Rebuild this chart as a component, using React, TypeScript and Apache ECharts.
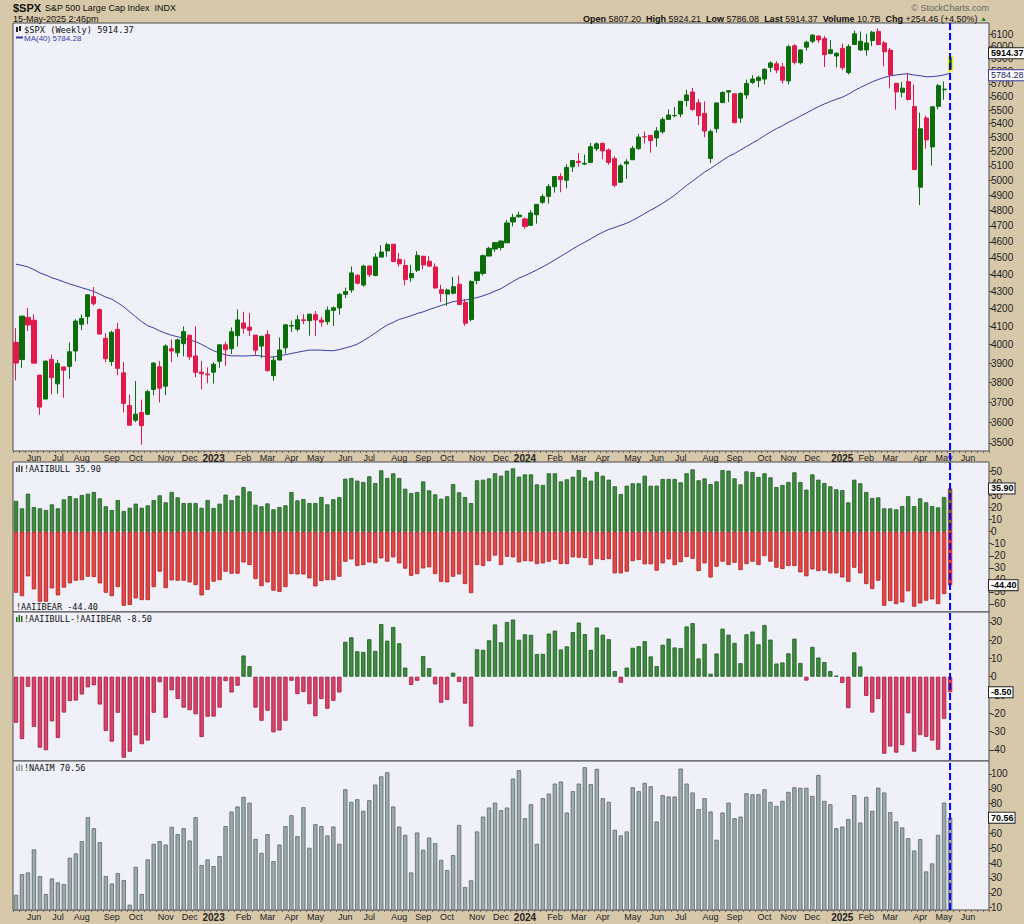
import React, { useEffect, useRef } from 'react';
import * as echarts from 'echarts';

// ---------- categories ----------
const START_UTC = Date.UTC(2022, 4, 16); // week of 16-May-2022
const SLOTS = 163; // 157 weeks of data + future weeks to end of June 2025
const MONTHS = ['Jan', 'Feb', 'Mar', 'Apr', 'May', 'Jun', 'Jul', 'Aug', 'Sep', 'Oct', 'Nov', 'Dec'];

// ---------- $SPX weekly OHLC ----------
const opens = [
  4013.0, 3920.0, 4151.0, 4135.0, 3838.0, 3715.0, 3920.8, 3792.6, 3880.9, 3883.8,
  3965.7, 4112.4, 4155.9, 4269.4, 4195.1, 4034.6, 3909.4, 4083.7, 3849.9, 3682.7,
  3609.8, 3647.5, 3638.7, 3764.0, 3881.9, 3780.7, 3977.9, 3956.2, 4005.4, 4052.0,
  3939.3, 3853.8, 3843.3, 3853.3, 3910.8, 3999.3, 3978.1, 4049.3, 4119.6, 4096.6,
  4052.4, 3992.4, 4055.1, 3835.1, 3917.5, 3982.9, 4102.2, 4085.2, 4137.2, 4132.1,
  4166.8, 4136.0, 4126.7, 4190.8, 4204.2, 4283.0, 4308.3, 4396.1, 4337.4, 4450.5,
  4394.2, 4505.4, 4543.4, 4584.8, 4491.6, 4454.2, 4380.3, 4426.0, 4510.1, 4480.5,
  4445.4, 4310.6, 4284.5, 4289.0, 4342.4, 4235.8, 4139.4, 4364.3, 4406.7, 4511.7,
  4554.9, 4564.4, 4593.4, 4725.6, 4758.9, 4745.2, 4703.7, 4772.4, 4853.4, 4893.0,
  4957.2, 5026.8, 5001.1, 5093.0, 5131.0, 5112.0, 5123.3, 5219.5, 5258.0, 5211.4,
  5149.7, 4987.3, 5114.1, 5142.4, 5221.1, 5305.4, 5315.9, 5297.2, 5341.2, 5432.0,
  5459.6, 5471.1, 5572.9, 5638.2, 5555.7, 5476.6, 5151.1, 5364.3, 5557.2, 5637.8,
  5623.9, 5442.1, 5615.2, 5711.9, 5726.5, 5737.8, 5829.8, 5857.8, 5833.9, 5723.2,
  6003.6, 5867.0, 5992.3, 6040.1, 6083.9, 6063.8, 5940.3, 5920.7, 5982.8, 5789.0,
  6014.1, 5969.0, 5969.7, 6046.4, 6121.6, 6026.7, 5968.3, 5705.4, 5635.6, 5718.1,
  5527.9, 4953.8, 5442.0, 5232.9, 5529.2, 5655.3, 5807.2,
];
const highs = [
  4090.7, 4158.5, 4204.3, 4168.8, 3838.0, 3913.7, 3945.9, 3918.5, 3880.9, 4012.4,
  4140.2, 4167.7, 4280.5, 4325.3, 4203.0, 4062.1, 4076.8, 4119.3, 3907.1, 3736.7,
  3806.9, 3711.9, 3762.8, 3905.4, 3911.8, 4001.5, 4028.8, 4034.0, 4100.5, 4052.0,
  4101.0, 3911.9, 3878.4, 3906.0, 4004.0, 4015.4, 4094.2, 4195.4, 4182.7, 4176.5,
  4052.4, 4048.3, 4078.5, 3937.3, 4039.5, 4110.8, 4133.1, 4163.2, 4169.5, 4170.1,
  4186.9, 4154.3, 4212.9, 4212.9, 4290.7, 4322.6, 4448.5, 4400.2, 4458.5, 4456.5,
  4527.6, 4578.4, 4594.2, 4584.8, 4531.0, 4490.3, 4458.3, 4541.3, 4514.3, 4512.0,
  4466.4, 4338.5, 4317.3, 4385.5, 4393.6, 4255.8, 4366.2, 4415.3, 4521.2, 4568.4,
  4595.1, 4609.2, 4738.6, 4778.0, 4793.3, 4754.3, 4802.4, 4842.1, 4907.5, 4975.3,
  5030.1, 5048.4, 5111.1, 5140.3, 5189.3, 5179.1, 5261.1, 5264.9, 5263.0, 5222.2,
  5168.4, 5114.6, 5146.2, 5239.7, 5325.5, 5341.9, 5315.9, 5375.1, 5447.2, 5505.5,
  5523.6, 5570.3, 5655.6, 5669.7, 5585.3, 5566.2, 5358.9, 5561.0, 5643.2, 5651.6,
  5623.9, 5636.3, 5733.6, 5767.4, 5765.1, 5822.1, 5878.5, 5878.5, 5865.0, 6012.5,
  6017.3, 5972.9, 6044.2, 6100.0, 6085.2, 6085.2, 6049.8, 5949.3, 6021.0, 6015.0,
  6128.2, 6120.9, 6101.3, 6127.5, 6147.4, 6043.7, 5986.1, 5705.4, 5715.3, 5787.0,
  5695.3, 5481.3, 5459.5, 5528.1, 5700.7, 5720.1, 5924.2,
];
const lows = [
  3810.3, 3875.1, 4074.0, 3900.2, 3636.9, 3715.0, 3738.7, 3742.0, 3721.6, 3818.6,
  3910.7, 4079.8, 4112.1, 4218.7, 4057.7, 3906.2, 3886.2, 3837.1, 3647.5, 3584.1,
  3599.6, 3491.6, 3638.7, 3733.7, 3698.2, 3735.2, 3906.5, 3933.6, 3937.0, 3918.4,
  3827.1, 3764.5, 3795.6, 3794.3, 3877.3, 3885.5, 3949.1, 3989.9, 4060.8, 4047.0,
  3943.1, 3928.2, 3855.8, 3808.9, 3916.1, 3951.5, 4069.8, 4072.6, 4113.2, 4049.4,
  4048.3, 4098.9, 4109.2, 4103.0, 4166.2, 4262.0, 4292.4, 4341.3, 4328.1, 4385.1,
  4389.9, 4503.5, 4507.7, 4474.6, 4448.1, 4335.3, 4356.3, 4415.2, 4430.5, 4448.4,
  4316.5, 4238.6, 4216.5, 4283.8, 4223.0, 4103.8, 4127.9, 4342.2, 4393.6, 4511.7,
  4537.2, 4546.5, 4593.4, 4697.8, 4751.6, 4682.1, 4699.8, 4714.8, 4842.1, 4845.2,
  4918.1, 4920.3, 4946.0, 5058.3, 5094.4, 5104.4, 5123.3, 5203.4, 5146.1, 5107.9,
  4953.6, 4987.3, 5011.1, 5142.4, 5211.2, 5256.9, 5191.7, 5234.3, 5327.3, 5432.0,
  5447.9, 5448.4, 5528.6, 5497.0, 5391.0, 5302.4, 5119.3, 5335.0, 5555.4, 5561.0,
  5402.6, 5407.0, 5584.8, 5699.0, 5674.0, 5695.7, 5791.5, 5782.3, 5703.0, 5696.5,
  5853.0, 5853.0, 5963.9, 6025.0, 6026.9, 5832.3, 5935.1, 5829.5, 5809.7, 5773.3,
  6014.1, 5962.9, 5923.9, 6003.0, 6008.6, 5837.7, 5666.3, 5504.7, 5597.8, 5572.4,
  5069.9, 4835.0, 5220.8, 5101.6, 5506.6, 5578.6, 5786.1,
];
const closes = [
  3901.4, 4158.2, 4108.5, 3900.9, 3674.8, 3911.7, 3825.3, 3899.4, 3863.2, 3961.6,
  4130.3, 4145.2, 4280.2, 4228.5, 4057.7, 3924.3, 4067.4, 3873.3, 3693.2, 3585.6,
  3639.7, 3583.1, 3752.8, 3901.1, 3770.6, 3992.9, 3965.3, 4026.1, 4071.7, 3934.4,
  3852.4, 3844.8, 3839.5, 3895.1, 3999.1, 3972.6, 4070.6, 4136.5, 4090.5, 4079.1,
  3970.0, 4045.6, 3861.6, 3916.6, 3971.0, 4109.3, 4105.0, 4137.6, 4133.5, 4169.5,
  4136.3, 4124.1, 4192.0, 4205.5, 4282.4, 4298.9, 4409.6, 4348.3, 4450.4, 4399.0,
  4505.4, 4536.3, 4582.2, 4478.0, 4464.1, 4369.7, 4405.7, 4515.8, 4457.5, 4450.3,
  4320.1, 4288.1, 4308.5, 4327.8, 4224.2, 4117.4, 4358.3, 4415.2, 4514.0, 4559.3,
  4594.6, 4604.4, 4719.2, 4754.6, 4769.8, 4697.2, 4783.8, 4839.8, 4891.0, 4958.6,
  5026.6, 5005.6, 5088.8, 5137.1, 5123.7, 5117.1, 5234.2, 5254.4, 5204.3, 5123.4,
  4967.2, 5100.0, 5127.8, 5222.7, 5303.3, 5304.7, 5277.5, 5347.0, 5431.6, 5464.6,
  5460.5, 5567.2, 5615.4, 5505.0, 5459.1, 5346.6, 5344.2, 5554.3, 5634.6, 5648.4,
  5408.4, 5626.0, 5702.6, 5738.2, 5751.1, 5815.0, 5864.7, 5808.1, 5728.8, 5995.5,
  5870.6, 5969.3, 6032.4, 6090.3, 6051.1, 5930.9, 5970.8, 5942.5, 5827.0, 5996.7,
  6101.2, 6040.5, 6026.0, 6114.6, 6013.1, 5954.5, 5770.2, 5638.9, 5667.6, 5580.9,
  5074.1, 5363.4, 5282.7, 5525.2, 5686.7, 5659.9, 5914.37,
];
// 39 weekly closes before the first visible week (needed for the 40-week MA)
const priorCloses = [
  4441.7, 4509.4, 4535.4, 4458.6, 4433.0, 4455.5, 4357.0, 4391.3, 4471.4, 4544.9,
  4605.4, 4697.5, 4682.9, 4698.0, 4594.6, 4538.4, 4712.0, 4620.6, 4725.8, 4766.2,
  4677.0, 4662.9, 4397.9, 4431.9, 4500.5, 4418.6, 4348.9, 4384.7, 4328.9, 4204.3,
  4463.1, 4543.1, 4545.9, 4488.3, 4392.6, 4271.8, 4131.9, 4123.3, 4023.9,
];

// ---------- AAII bull / bear ----------
const bull = [
  25.5, 19.4, 31.6, 20.5, 19.4, 18.0, 22.7, 19.4, 26.9, 29.6,
  27.7, 30.5, 31.6, 33.0, 27.7, 21.1, 18.0, 26.3, 17.2, 19.9,
  23.3, 19.9, 21.9, 26.3, 30.2, 24.4, 33.0, 28.5, 23.8, 23.8,
  23.8, 19.9, 26.3, 19.7, 23.3, 30.8, 26.3, 30.0, 37.1, 33.5,
  22.4, 21.1, 23.5, 18.6, 20.5, 21.9, 33.0, 26.0, 27.1, 23.8,
  23.8, 28.8, 22.7, 27.0, 28.8, 44.0, 44.6, 42.4, 41.3, 46.0,
  40.4, 51.0, 44.6, 48.5, 44.6, 35.7, 32.1, 33.0, 41.8, 34.3,
  31.0, 27.4, 29.4, 39.6, 32.7, 28.8, 23.8, 42.7, 43.2, 44.3,
  48.5, 46.5, 50.7, 52.6, 45.7, 47.6, 47.6, 39.3, 38.8, 48.5,
  48.5, 41.8, 43.5, 45.7, 51.2, 45.2, 42.4, 49.6, 46.5, 43.2,
  37.7, 31.3, 38.2, 40.2, 40.2, 46.5, 38.2, 38.2, 43.8, 43.8,
  43.8, 41.0, 48.5, 51.8, 42.7, 44.3, 39.6, 41.8, 51.2, 50.7,
  44.3, 39.3, 50.1, 49.6, 45.4, 48.5, 45.2, 37.1, 38.8, 41.3,
  49.3, 41.3, 34.9, 47.6, 43.2, 40.4, 37.7, 35.2, 34.6, 24.4,
  43.2, 40.2, 33.0, 28.0, 28.5, 19.4, 19.4, 18.6, 21.3, 29.5,
  21.3, 27.7, 24.4, 21.3, 20.2, 28.8, 35.9,
];
const bear = [
  -50.7, -53.5, -37.1, -47.9, -58.2, -58.2, -47.1, -52.9, -46.5, -42.9,
  -40.7, -40.2, -37.4, -37.7, -42.9, -50.7, -53.5, -46.0, -61.5, -60.9,
  -55.4, -56.8, -56.8, -46.0, -33.2, -46.8, -40.4, -40.7, -40.7, -42.1,
  -44.3, -52.9, -48.2, -41.5, -40.2, -33.2, -34.9, -34.9, -25.5, -27.7,
  -39.3, -45.2, -42.1, -49.0, -49.9, -46.0, -35.2, -35.5, -35.5, -38.8,
  -45.4, -41.0, -40.2, -40.2, -37.4, -24.9, -23.0, -28.5, -27.7, -25.5,
  -26.3, -22.2, -24.9, -21.3, -26.3, -30.7, -36.6, -35.2, -30.5, -29.6,
  -35.2, -41.6, -42.1, -37.4, -35.5, -43.5, -51.0, -27.7, -28.5, -24.4,
  -19.9, -27.7, -20.8, -21.3, -25.5, -24.4, -24.7, -26.9, -26.3, -24.9,
  -23.3, -26.9, -26.9, -21.3, -21.6, -21.9, -27.7, -22.7, -23.5, -22.7,
  -34.6, -34.6, -33.2, -24.4, -23.5, -27.1, -27.1, -32.4, -26.3, -23.0,
  -27.8, -25.3, -21.0, -22.5, -32.7, -26.3, -38.0, -29.1, -24.9, -27.7,
  -25.8, -31.9, -26.9, -24.9, -27.7, -20.2, -24.9, -29.9, -31.0, -28.5,
  -28.5, -33.8, -37.0, -31.3, -32.7, -32.4, -34.6, -34.6, -38.0, -41.6,
  -29.9, -34.6, -43.5, -47.6, -40.7, -61.5, -57.6, -60.1, -58.7, -49.5,
  -62.3, -59.6, -57.3, -56.2, -60.1, -51.8, -44.4,
];

// ---------- NAAIM exposure ----------
const naaim = [
  18.7, 32.6, 33.7, 49.2, 31.3, 19.2, 29.7, 27.0, 25.9, 43.6,
  46.5, 54.8, 70.9, 63.5, 54.1, 31.3, 26.3, 33.3, 28.6, 12.0,
  37.5, 19.2, 42.5, 53.0, 54.8, 52.5, 64.4, 59.5, 63.5, 55.2,
  70.9, 38.7, 42.5, 38.0, 44.7, 64.9, 74.7, 78.1, 84.6, 80.7,
  56.3, 46.9, 59.5, 41.3, 52.5, 64.9, 72.2, 58.1, 77.6, 50.3,
  66.2, 64.9, 58.6, 64.6, 53.0, 89.7, 81.2, 83.0, 75.2, 82.3,
  92.8, 98.4, 101.1, 78.1, 64.6, 59.0, 33.7, 60.6, 49.0, 57.2,
  53.4, 42.2, 35.3, 45.4, 65.7, 23.9, 28.4, 61.3, 71.3, 77.4,
  80.7, 75.6, 77.4, 96.9, 102.5, 70.2, 79.6, 53.0, 83.7, 86.8,
  93.5, 94.9, 74.0, 88.4, 93.5, 104.5, 93.1, 103.4, 83.7, 81.2,
  62.4, 58.6, 61.3, 91.0, 88.4, 94.0, 91.7, 68.0, 85.7, 84.8,
  84.8, 103.6, 93.5, 87.5, 76.3, 83.7, 74.7, 55.7, 74.0, 80.7,
  70.2, 71.3, 87.0, 86.3, 86.3, 89.7, 81.2, 78.5, 81.9, 87.9,
  91.0, 90.6, 90.6, 85.2, 99.3, 81.9, 79.6, 63.5, 64.6, 69.6,
  85.7, 67.3, 84.6, 75.2, 90.8, 87.5, 74.3, 68.0, 64.0, 56.8,
  48.5, 56.1, 34.4, 39.8, 59.0, 80.7, 70.56,
];

// ---------- tick labels ----------
const priceTicks = [3500, 3600, 3700, 3800, 3900, 4000, 4100, 4200, 4300, 4400, 4500, 4600, 4700, 4800, 4900, 5000, 5100, 5200, 5300, 5400, 5500, 5600, 5700, 5800, 5900, 6000, 6100];
const sentimentTicks = [-60, -50, -40, -30, -20, -10, 0, 10, 20, 30, 40, 50];
const spreadTicks = [-40, -30, -20, -10, 0, 10, 20, 30];
const naaimTicks = [10, 20, 30, 40, 50, 60, 70, 80, 90, 100];

// ---------- styles ----------
const FONT = 'Liberation Sans, Arial, sans-serif';
const MONO = 'DejaVu Sans Mono, monospace';
const TAN = '#d8c8aa';
const PLOT_BG = '#eff0f8';
const UP = '#0b6e0b';
const DOWN = '#e01b4c';

export default function App() {
  const ref = useRef<HTMLDivElement>(null);

  useEffect(() => {
    if (!ref.current) return;
    const chart = echarts.init(ref.current, undefined, { renderer: 'svg' });

    const cats: string[] = [];
    for (let i = 0; i < SLOTS; i++) {
      cats.push(new Date(START_UTC + i * 7 * 86400000).toISOString().slice(0, 10));
    }
    const monthOf = (s: string) => Number(s.slice(5, 7)) - 1;
    const showLabel = (i: number) => i > 0 && monthOf(cats[i]) !== monthOf(cats[i - 1]);

    const N = closes.length;
    const last = N - 1;
    const L = Math.log;
    const allCloses = [...priorCloses, ...closes];
    const ma = closes.map((_, i) => {
      let s = 0;
      for (let k = i; k < i + 40; k++) s += allCloses[k];
      return L(s / 40);
    });
    const candleData = closes.map((c, i) => {
      const item: any = { value: [L(opens[i]), L(c), L(lows[i]), L(highs[i])] };
      if (i === last) item.itemStyle = { borderColor: '#f0f000', borderWidth: 1.5 };
      return item;
    });
    const spread = bull.map((b, i) => Math.round((b + bear[i]) * 100) / 100);
    const spreadData = spread.map((v, i) => ({
      value: v,
      itemStyle: {
        color: v >= 0 ? '#3d8c3d' : '#d9456a',
        borderColor: i === last ? '#d01010' : v >= 0 ? '#1e5c1e' : '#a3163c',
      },
    }));
    const bullData = bull.map((v, i) => (i === last ? { value: v, itemStyle: { borderColor: '#d01010' } } : v));
    const bearData = bear.map((v, i) => (i === last ? { value: v, itemStyle: { borderColor: '#d01010' } } : v));

    const tag = (val: number, text: string, opt: any = {}) => ({
      silent: true,
      symbol: ['none', 'none'],
      animation: false,
      lineStyle: { color: 'rgba(0,0,0,0)', width: 0, type: 'solid' },
      label: {
        show: true,
        position: 'end',
        distance: 0,
        formatter: text,
        backgroundColor: '#ffffff',
        borderColor: opt.border || '#222',
        borderWidth: 1,
        padding: [1, 1, 0, 2],
        fontSize: 9,
        fontFamily: FONT,
        fontWeight: opt.bold === false ? 'normal' : 'bold',
        color: opt.color || '#000',
        opacity: 1,
      },
      emphasis: { disabled: true },
      data: [{ yAxis: val }],
    });

    const grids = [
      { top: 23, height: 428 },
      { top: 462, height: 150 },
      { top: 612, height: 149 },
      { top: 761, height: 149 },
    ].map((g) => ({
      left: 13,
      width: 976,
      top: g.top,
      height: g.height,
      show: true,
      backgroundColor: PLOT_BG,
      borderColor: '#4a4a4a',
      borderWidth: 1,
      containLabel: false,
      outerBoundsMode: 'none',
    }));

    const xAxes = [0, 1, 2, 3].map((g) => ({
      type: 'category',
      gridIndex: g,
      data: cats,
      boundaryGap: true,
      axisLine: { show: false },
      axisTick: {
        show: g === 0 || g === 3,
        interval: 0,
        length: 2,
        lineStyle: { color: '#666', width: 1 },
      },
      axisLabel: {
        show: g === 0 || g === 3,
        interval: (i: number) => showLabel(i),
        formatter: (v: string) => {
          const m = monthOf(v);
          return m === 0 ? `{y|${v.slice(0, 4)}}` : MONTHS[m];
        },
        fontSize: 9,
        fontFamily: FONT,
        color: '#222',
        margin: 2,
        rich: { y: { fontWeight: 'bold', fontSize: 10, fontFamily: FONT, color: '#222' } },
      },
      splitLine: { show: false },
    }));

    const yAxis = (g: number, min: number, max: number, ticks: number[], fmt: (v: number) => string) => ({
      type: 'value',
      gridIndex: g,
      position: 'right',
      min,
      max,
      axisLine: { show: false },
      splitLine: { show: false },
      axisTick: { show: true, length: 3, customValues: ticks, lineStyle: { color: '#444' } },
      axisLabel: {
        show: true,
        customValues: ticks,
        formatter: fmt,
        fontSize: 10,
        fontFamily: FONT,
        color: '#222',
        margin: 2,
      },
    });

    const option: any = {
      animation: false,
      backgroundColor: TAN,
      textStyle: { fontFamily: FONT },
      grid: grids,
      xAxis: xAxes,
      yAxis: [
        yAxis(0, L(3462), L(6192), priceTicks.map((t) => L(t)), (v) => String(Math.round(Math.exp(v)))),
        yAxis(1, -66.7, 57.9, sentimentTicks, (v) => String(v)),
        yAxis(2, -46.1, 35.4, spreadTicks, (v) => String(v)),
        yAxis(3, 8.46, 108.7, naaimTicks, (v) => String(v)),
      ],
      series: [
        {
          name: '$SPX',
          type: 'candlestick',
          xAxisIndex: 0,
          yAxisIndex: 0,
          data: candleData,
          barWidth: 4.6,
          itemStyle: { color: UP, color0: DOWN, borderColor: UP, borderColor0: DOWN, borderWidth: 1 },
          markLine: tag(L(5914.37), '5914.37'),
          z: 3,
        },
        {
          name: 'MA(40)',
          type: 'line',
          xAxisIndex: 0,
          yAxisIndex: 0,
          data: ma,
          symbol: 'none',
          lineStyle: { color: '#3a3aa6', width: 1 },
          markLine: tag(L(5784.28), '5784.28', { border: '#3a3aa6', bold: false, color: '#202060' }),
          z: 2,
        },
        {
          name: '!AAIIBULL',
          type: 'bar',
          xAxisIndex: 1,
          yAxisIndex: 1,
          data: bullData,
          barWidth: 4.3,
          barGap: '-100%',
          itemStyle: { color: '#3d8c3d', borderColor: '#1e5c1e', borderWidth: 0.8 },
          markLine: tag(35.9, '35.90'),
        },
        {
          name: '!AAIIBEAR',
          type: 'bar',
          xAxisIndex: 1,
          yAxisIndex: 1,
          data: bearData,
          barWidth: 4.3,
          barGap: '-100%',
          itemStyle: { color: '#e34848', borderColor: '#b31c1c', borderWidth: 0.8 },
          markLine: tag(-44.4, '-44.40'),
        },
        {
          name: 'spread',
          type: 'bar',
          xAxisIndex: 2,
          yAxisIndex: 2,
          data: spreadData,
          barWidth: 4.3,
          itemStyle: { borderWidth: 0.8 },
          markLine: tag(-8.5, '-8.50'),
        },
        {
          name: '!NAAIM',
          type: 'bar',
          xAxisIndex: 3,
          yAxisIndex: 3,
          data: naaim,
          barWidth: 4.3,
          clip: true,
          itemStyle: { color: '#9caaaa', borderColor: '#5c6868', borderWidth: 0.8 },
          markLine: tag(70.56, '70.56'),
        },
      ],
      graphic: [
        {
          type: 'group',
          id: 'texts',
          z: 100,
          children: [
            { type: 'text', x: 13, y: 2, style: { text: '$SPX', fontSize: 11, fontWeight: 'bold', fontFamily: FONT, fill: '#111' } },
            { type: 'text', x: 45, y: 3, style: { text: 'S&P 500 Large Cap Index  INDX', fontSize: 9, fontFamily: FONT, fill: '#111' } },
            { type: 'text', x: 13, y: 14, style: { text: '15-May-2025 2:46pm', fontSize: 9, fontFamily: FONT, fill: '#111' } },
            { type: 'text', x: 989, y: 3, style: { text: '© StockCharts.com', fontSize: 9, fontFamily: FONT, fill: '#666', align: 'right' } },
            {
              type: 'text',
              x: 987,
              y: 14,
              style: {
                text: '{b|Open} 5807.20  {b|High} 5924.21  {b|Low} 5786.08  {b|Last} 5914.37  {b|Volume} 10.7B  {b|Chg} +254.46 (+4.50%) {g|▲}',
                fontSize: 9,
                fontFamily: FONT,
                fill: '#111',
                align: 'right',
                rich: {
                  b: { fontWeight: 'bold', fontSize: 9, fontFamily: FONT, fill: '#111' },
                  g: { fontSize: 7, fill: '#1f8a1f' },
                },
              },
            },
            // panel 1 legend
            { type: 'rect', shape: { x: 16, y: 27, width: 2, height: 5 }, style: { fill: '#222' } },
            { type: 'rect', shape: { x: 19, y: 26, width: 2, height: 5 }, style: { fill: '#222' } },
            { type: 'text', x: 24, y: 25, style: { text: '$SPX (Weekly) 5914.37', fontSize: 8.7, fontFamily: MONO, fill: '#111' } },
            { type: 'line', shape: { x1: 16, y1: 37.5, x2: 23, y2: 37.5 }, style: { stroke: '#3a3aa6', lineWidth: 2 } },
            { type: 'text', x: 24, y: 34, style: { text: 'MA(40) 5784.28', fontSize: 8, fontFamily: FONT, fill: '#3a3aa6' } },
            // panel 2 legend
            { type: 'rect', shape: { x: 16, y: 467, width: 1.5, height: 5 }, style: { fill: '#444' } },
            { type: 'rect', shape: { x: 18.5, y: 465, width: 1.5, height: 7 }, style: { fill: '#444' } },
            { type: 'rect', shape: { x: 21, y: 466, width: 1.5, height: 6 }, style: { fill: '#444' } },
            { type: 'text', x: 24, y: 464, style: { text: '!AAIIBULL 35.90', fontSize: 8.5, fontFamily: MONO, fill: '#111' } },
            { type: 'text', x: 16, y: 602, style: { text: '!AAIIBEAR -44.40', fontSize: 8.5, fontFamily: MONO, fill: '#111' } },
            // panel 3 legend
            { type: 'rect', shape: { x: 16, y: 617, width: 1.5, height: 5 }, style: { fill: '#1e6e1e' } },
            { type: 'rect', shape: { x: 18.5, y: 615, width: 1.5, height: 7 }, style: { fill: '#1e6e1e' } },
            { type: 'rect', shape: { x: 21, y: 616, width: 1.5, height: 6 }, style: { fill: '#1e6e1e' } },
            { type: 'text', x: 24, y: 614, style: { text: '!AAIIBULL-!AAIIBEAR -8.50', fontSize: 8.5, fontFamily: MONO, fill: '#111' } },
            // panel 4 legend
            { type: 'rect', shape: { x: 16, y: 766, width: 1.5, height: 5 }, style: { fill: '#8a9898' } },
            { type: 'rect', shape: { x: 18.5, y: 764, width: 1.5, height: 7 }, style: { fill: '#8a9898' } },
            { type: 'rect', shape: { x: 21, y: 765, width: 1.5, height: 6 }, style: { fill: '#8a9898' } },
            { type: 'text', x: 24, y: 763, style: { text: '!NAAIM 70.56', fontSize: 8.5, fontFamily: MONO, fill: '#111' } },
          ],
        },
      ],
    };

    chart.setOption(option);

    const px = chart.convertToPixel({ xAxisIndex: 0 }, last) as unknown as number;
    if (typeof px === 'number' && isFinite(px)) {
      chart.setOption({
        graphic: [
          {
            type: 'line',
            id: 'vline',
            z: 120,
            silent: true,
            shape: { x1: px, y1: 23, x2: px, y2: 910 },
            style: { stroke: '#0000ff', lineWidth: 2, lineDash: [7, 3] },
          },
        ],
      });
    }

    return () => chart.dispose();
  }, []);

  return (
    <div
      ref={ref}
      style={{ position: 'fixed', left: 0, top: 0, width: 1024, height: 924, background: TAN }}
    />
  );
}
